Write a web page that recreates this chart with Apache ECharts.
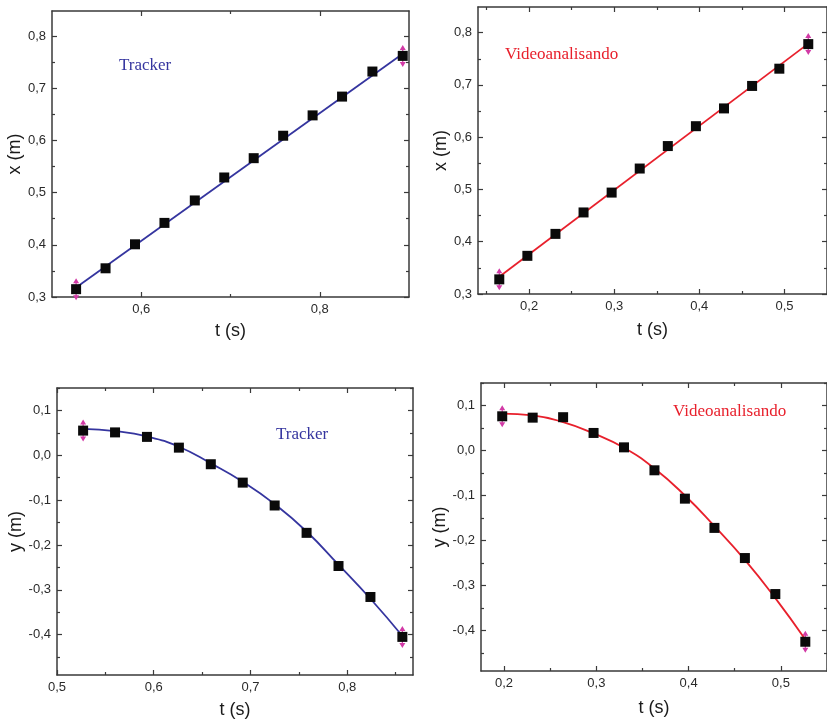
<!DOCTYPE html>
<html>
<head>
<meta charset="utf-8">
<script src="https://cdn.jsdelivr.net/npm/echarts@6/dist/echarts.min.js"></script>
<style>
  html, body { margin: 0; padding: 0; background: #fff; }
  #main { width: 827px; height: 722px; }
</style>
</head>
<body>
<div id="main"></div>
<script>
// tempos (s) e posições (m)
var tTrackerX = [0.527, 0.560, 0.593, 0.626, 0.660, 0.693, 0.726, 0.759, 0.792, 0.825, 0.859, 0.893];
var xTracker  = [0.315, 0.355, 0.401, 0.442, 0.485, 0.529, 0.566, 0.609, 0.648, 0.684, 0.732, 0.762];
var tTrackerXFit = [0.527, 0.893];
var xTrackerFit  = [0.318, 0.766];

var tVideoX = [0.165, 0.198, 0.231, 0.264, 0.297, 0.330, 0.363, 0.396, 0.429, 0.462, 0.494, 0.528];
var xVideo  = [0.328, 0.373, 0.415, 0.456, 0.494, 0.540, 0.583, 0.621, 0.655, 0.698, 0.731, 0.778];
var tVideoXFit = [0.165, 0.528];
var xVideoFit  = [0.333, 0.779];

var tTrackerY   = [0.527, 0.560, 0.593, 0.626, 0.659, 0.692, 0.725, 0.758, 0.791, 0.824, 0.857];
var yTracker    = [0.055, 0.051, 0.041, 0.017, -0.020, -0.061, -0.112, -0.173, -0.247, -0.316, -0.405];
var yTrackerFit = [0.059, 0.054, 0.042, 0.019, -0.018, -0.059, -0.109, -0.170, -0.244, -0.320, -0.403];

var tVideoY   = [0.198, 0.231, 0.264, 0.297, 0.330, 0.363, 0.396, 0.428, 0.461, 0.494, 0.5265];
var yVideo    = [0.076, 0.073, 0.074, 0.039, 0.007, -0.044, -0.107, -0.172, -0.239, -0.319, -0.425];
var yVideoFit = [0.082, 0.078, 0.063, 0.038, 0.006, -0.040, -0.100, -0.168, -0.243, -0.328, -0.420];

// marcas dos eixos
var tTicks1 = [0.6, 0.8];
var tMinor1 = [0.7];
var tTicks2 = [0.2, 0.3, 0.4, 0.5];
var tMinor2 = [0.15, 0.25, 0.35, 0.45, 0.55];
var tTicks3 = [0.5, 0.6, 0.7, 0.8];
var tMinor3 = [0.55, 0.65, 0.75, 0.85];
var tTicks4 = [0.2, 0.3, 0.4, 0.5];
var tMinor4 = [0.25, 0.35, 0.45, 0.55];
var xTicks = [0.3, 0.4, 0.5, 0.6, 0.7, 0.8];
var xMinor = [0.35, 0.45, 0.55, 0.65, 0.75, 0.85];
var yTicks = [-0.4, -0.3, -0.2, -0.1, 0.0, 0.1];
var yMinor = [-0.45, -0.35, -0.25, -0.15, -0.05, 0.05, 0.15];

var BLUE = '#35359f';
var RED = '#e8202c';
var AXIS = '#3a3a3a';

function pairs(a, b) {
  return a.map(function (v, i) { return [v, b[i]]; });
}
function ends(a, b) {
  return [[a[0], b[0]], [a[a.length - 1], b[b.length - 1]]];
}
function fmt(v) {
  return (Math.round(v * 10) / 10).toFixed(1).replace('.', ',');
}

// 4 eixos por dimensão em cada painel: principal, menor, espelho, espelho menor
function axes(gi, dim, min, max, major, minor, name, gap) {
  var side = dim === 'x' ? ['bottom', 'top'] : ['left', 'right'];
  function one(pos, ticks, len, main, label) {
    return {
      type: 'value', gridIndex: gi, position: pos, min: min, max: max,
      axisLine: { show: main, onZero: false, lineStyle: { color: AXIS, width: 1.5 } },
      axisTick: { show: true, inside: true, length: len, customValues: ticks,
        lineStyle: { color: AXIS, width: 1.2 } },
      axisLabel: { show: label, customValues: major, formatter: fmt, margin: 6,
        color: '#2a2a2a', fontSize: 13, fontFamily: 'Liberation Sans' },
      splitLine: { show: false },
      name: label ? name : '', nameLocation: 'middle', nameGap: gap,
      nameTextStyle: { color: '#1a1a1a', fontSize: 18, fontFamily: 'Liberation Sans' }
    };
  }
  return [
    one(side[0], major, 5, true, true),
    one(side[0], minor, 3, false, false),
    one(side[1], major, 5, true, false),
    one(side[1], minor, 3, false, false)
  ];
}

var myChart = echarts.init(document.getElementById('main'));

var grids = [
  { left: 52, right: 418, top: 11, bottom: 425 },
  { left: 478, right: -9, top: 7, bottom: 428 },
  { left: 57, right: 414, top: 388, bottom: 47 },
  { left: 481, right: -21, top: 383, bottom: 51 }
];

var xAxes = [].concat(
  axes(0, 'x', 0.5, 0.9, tTicks1, tMinor1, 't (s)', 25),
  axes(1, 'x', 0.14, 0.55, tTicks2, tMinor2, 't (s)', 27),
  axes(2, 'x', 0.5, 0.868, tTicks3, tMinor3, 't (s)', 26),
  axes(3, 'x', 0.175, 0.55, tTicks4, tMinor4, 't (s)', 28)
);
var yAxes = [].concat(
  axes(0, 'y', 0.3, 0.848, xTicks, xMinor, 'x (m)', 25),
  axes(1, 'y', 0.3, 0.849, xTicks, xMinor, 'x (m)', 27),
  axes(2, 'y', -0.49, 0.15, yTicks, yMinor, 'y (m)', 29),
  axes(3, 'y', -0.49, 0.15, yTicks, yMinor, 'y (m)', 31)
);

var errPath = 'path://M0,0 L3,5 L0.6,5 L0.6,17 L3,17 L0,22 L-3,17 L-0.6,17 L-0.6,5 L-3,5 Z';

function panel(gi, fit, pts, color) {
  var ax = gi * 4;
  return [
    { type: 'line', xAxisIndex: ax, yAxisIndex: ax, data: fit, smooth: true,
      showSymbol: false, symbol: 'none', lineStyle: { color: color, width: 1.8 }, z: 2 },
    { type: 'scatter', xAxisIndex: ax, yAxisIndex: ax, data: [pts[0], pts[pts.length - 1]],
      symbol: errPath, symbolSize: [6, 22], itemStyle: { color: '#d23aa6', opacity: 1 }, z: 1 },
    { type: 'scatter', xAxisIndex: ax, yAxisIndex: ax, data: pts,
      symbol: 'rect', symbolSize: 10, itemStyle: { color: '#0a0a0a', opacity: 1 }, z: 3 }
  ];
}

var series = [].concat(
  panel(0, ends(tTrackerXFit, xTrackerFit), pairs(tTrackerX, xTracker), BLUE),
  panel(1, ends(tVideoXFit, xVideoFit), pairs(tVideoX, xVideo), RED),
  panel(2, pairs(tTrackerY, yTrackerFit), pairs(tTrackerY, yTracker), BLUE),
  panel(3, pairs(tVideoY, yVideoFit), pairs(tVideoY, yVideo), RED)
);

function label(txt, x, y, color) {
  return { type: 'text', left: x, top: y, z: 10,
    style: { text: txt, fill: color, font: '17px "Liberation Serif"' } };
}

var option = {
  animation: false,
  backgroundColor: '#fff',
  grid: grids,
  xAxis: xAxes,
  yAxis: yAxes,
  series: series,
  graphic: [
    label('Tracker', 119, 57, BLUE),
    label('Videoanalisando', 505, 46, RED),
    label('Tracker', 276, 426, BLUE),
    label('Videoanalisando', 673, 403, RED)
  ]
};

myChart.setOption(option);
window.addEventListener('resize', myChart.resize);
</script>
</body>
</html>
